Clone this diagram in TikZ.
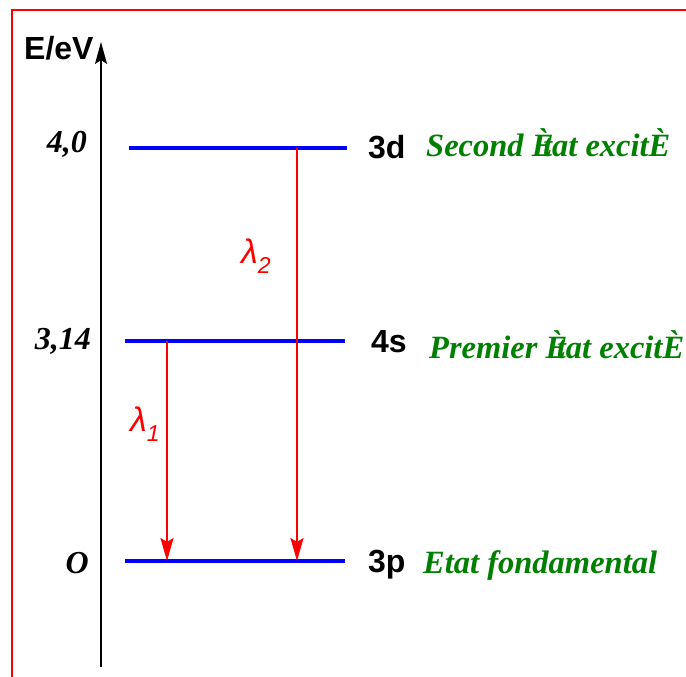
\documentclass[tikz,border=0pt]{standalone}
\usepackage{fontspec}
\setmainfont{Liberation Serif}
\newfontfamily\arial{Liberation Sans}
\usetikzlibrary{arrows.meta}
\definecolor{lvlblue}{RGB}{0,0,255}
\definecolor{txtgreen}{RGB}{0,128,0}
\definecolor{frred}{RGB}{255,0,0}
\tikzset{
  level/.style={draw=lvlblue, line width=3.5pt},
  trans/.style={draw=frred, line width=2.3pt,
    -{Stealth[length=23pt, width=13pt, inset=4pt]}},
  energy/.style={font=\fontsize{32}{32}\selectfont\bfseries\itshape, inner sep=0pt},
  orb/.style={font=\fontsize{32}{32}\selectfont\arial\bfseries, inner sep=0pt},
  state/.style={font=\fontsize{32.5}{32.5}\selectfont\bfseries\itshape, text=txtgreen, inner sep=0pt},
  wave/.style={font=\fontsize{34}{34}\selectfont\arial\itshape, text=frred, inner sep=0pt}
}
\newcommand{\wl}[1]{λ\raisebox{-10pt}{\fontsize{23}{23}\selectfont #1}}
\begin{document}
\begin{tikzpicture}[x=1pt, y=-1pt]
  \useasboundingbox (0,0) rectangle (686,677);
  % frame
  \draw[frred, line width=2.8pt] (686,10) -- (12,10) -- (12,677);

  % energy axis
  \coordinate (axbot) at (101,667);
  \coordinate (axtop) at (101,42);
  \draw[line width=1.4pt, -{Stealth[length=22pt, width=12pt, inset=4pt]}] (axbot) -- (axtop);
  \node[orb, anchor=base west] (unit) at (24,60) {E/eV};

  % levels
  \coordinate (d3L) at (129,148);
  \coordinate (d3R) at (347,148);
  \coordinate (s4L) at (125,341);
  \coordinate (s4R) at (345,341);
  \coordinate (p3L) at (125,561);
  \coordinate (p3R) at (345,561);
  \draw[level] (d3L) -- (d3R);
  \draw[level] (s4L) -- (s4R);
  \draw[level] (p3L) -- (p3R);

  % energy values
  \node[energy, anchor=base east] (e3d) at (87,153) {4,0};
  \node[energy, anchor=base east] (e4s) at (91,349) {3,14};
  \node[energy, anchor=base east] (e3p) at (89,573) {O};

  % orbital names
  \node[orb, anchor=base west] (n3d) at (368,158) {3d};
  \node[orb, anchor=base west] (n4s) at (371,352) {4s};
  \node[orb, anchor=base west] (n3p) at (368,572) {3p};

  % state names
  \node[state, anchor=base west] (st3d) at (426,157) {Second È\kern-0.32em tat excitÈ};
  \node[state, anchor=base west] (st4s) at (429,358) {Premier È\kern-0.32em tat excitÈ};
  \node[state, anchor=base west] (st3p) at (423,573) {Etat fondamental};

  % transitions
  \coordinate (t1a) at (167,341);
  \coordinate (t1b) at (167,561);
  \coordinate (t2a) at (297,148);
  \coordinate (t2b) at (297,561);
  \draw[trans] (t1a) -- (t1b);
  \draw[trans] (t2a) -- (t2b);
  \node[wave, anchor=base west] (lam1) at (130,431) {\wl{1}};
  \node[wave, anchor=base west] (lam2) at (241,263) {\wl{2}};
\end{tikzpicture}
\end{document}
